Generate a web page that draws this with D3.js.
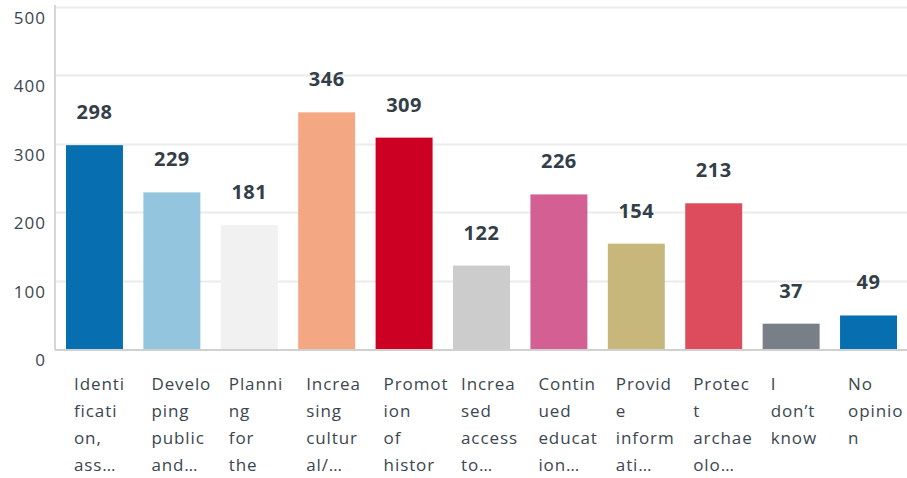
<!DOCTYPE html>
<html>
<head>
<meta charset="utf-8">
<script src="https://cdn.jsdelivr.net/npm/d3@7"></script>
<style>
  html, body { margin: 0; padding: 0; background: #fff; }
  svg { display: block; }
</style>
</head>
<body>
<svg id="chart" width="907" height="478"></svg>
<script>
// Response counts per answer choice
const categories = [
  "Identification, ass...", "Developing public and...", "Planning for the",
  "Increasing cultural/...", "Promotion of histor", "Increased access to...",
  "Continued education...", "Provide informati...", "Protect archaeolo...",
  "I don’t know", "No opinion"
];
// Wrapped label lines as shown under each bar
const labelLines = [
  ["Identi", "ficati", "on,", "ass…"],
  ["Develo", "ping", "public", "and…"],
  ["Planni", "ng", "for", "the"],
  ["Increa", "sing", "cultur", "al/…"],
  ["Promot", "ion", "of", "histor"],
  ["Increa", "sed", "access", "to…"],
  ["Contin", "ued", "educat", "ion…"],
  ["Provid", "e", "inform", "ati…"],
  ["Protec", "t", "archae", "olo…"],
  ["I", "don’t", "know"],
  ["No", "opinio", "n"]
];
const values = [298, 229, 181, 346, 309, 122, 226, 154, 213, 37, 49];
const colors = ["#076fb0", "#93c6de", "#f1f1f1", "#f4a783", "#cc0022", "#cccccc",
                "#d45f92", "#c8b77a", "#dc4c5c", "#787f87", "#076fb0"];
const yTicks = [0, 100, 200, 300, 400, 500];

const svg = d3.select("#chart");
const plotLeft = 55, plotRight = 908, plotTop = 7, plotBottom = 349;

const x = d3.scaleBand()
  .domain(d3.range(categories.length))
  .range([plotLeft, plotRight])
  .paddingInner(0.264)
  .paddingOuter(0.142);

const y = d3.scaleLinear().domain([0, 500]).range([plotBottom, plotTop]);

// Horizontal gridlines
svg.append("g").selectAll("line").data(yTicks.filter(d => d > 0)).join("line")
  .attr("x1", plotLeft).attr("x2", 907)
  .attr("y1", d => Math.round(y(d)) + 0.5).attr("y2", d => Math.round(y(d)) + 0.5)
  .attr("stroke", "#ebebeb").attr("stroke-width", 2);

// Y tick labels (sit a little below their gridline)
svg.append("g").selectAll("text").data(yTicks).join("text")
  .attr("x", 46).attr("y", d => y(d) + 17)
  .attr("text-anchor", "end")
  .attr("font-family", "'Open Sans', sans-serif")
  .attr("font-size", 17)
  .attr("letter-spacing", 1)
  .attr("fill", "#3b4650")
  .text(d => d);

// Bars
svg.append("g").selectAll("rect").data(values).join("rect")
  .attr("x", (d, i) => x(i))
  .attr("width", x.bandwidth())
  .attr("y", d => y(d))
  .attr("height", d => plotBottom - y(d))
  .attr("fill", (d, i) => colors[i]);

// Axis lines
svg.append("line").attr("x1", plotLeft).attr("x2", plotLeft).attr("y1", plotTop - 2).attr("y2", plotBottom + 1)
  .attr("stroke", "#d6d6d6").attr("stroke-width", 2);
svg.append("line").attr("x1", plotLeft).attr("x2", 907).attr("y1", plotBottom + 1).attr("y2", plotBottom + 1)
  .attr("stroke", "#d0d0d0").attr("stroke-width", 2);

// Value labels above bars
svg.append("g").selectAll("text").data(values).join("text")
  .attr("x", (d, i) => x(i) + x.bandwidth() / 2)
  .attr("y", d => y(d) - 26)
  .attr("text-anchor", "middle")
  .attr("font-family", "'Open Sans', sans-serif")
  .attr("font-weight", 700)
  .attr("font-size", 20)
  .attr("letter-spacing", 0.5)
  .attr("fill", "#333e48")
  .text(d => d);

// Category labels
const lab = svg.append("g").selectAll("text").data(labelLines).join("text")
  .attr("x", (d, i) => x(i) + 8)
  .attr("y", 390)
  .attr("font-family", "'Open Sans', sans-serif")
  .attr("font-size", 17)
  .attr("letter-spacing", 0.9)
  .attr("fill", "#3b4650");
lab.selectAll("tspan").data(d => d).join("tspan")
  .attr("x", function() { return this.parentNode.getAttribute("x"); })
  .attr("dy", (d, j) => j === 0 ? 0 : 27)
  .text(d => d);
</script>
</body>
</html>
